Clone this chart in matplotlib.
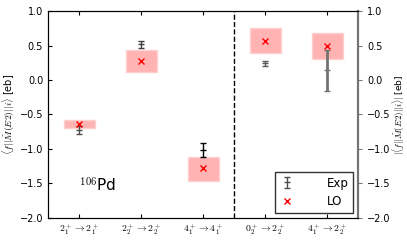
import numpy as np
import matplotlib
matplotlib.use('Agg')
import matplotlib.pyplot as plt

labels = [r'$2_1^+ \rightarrow 2_1^+$', r'$2_2^+ \rightarrow 2_2^+$', r'$4_1^+ \rightarrow 4_1^+$',
          r'$0_2^+ \rightarrow 2_2^+$', r'$4_1^+ \rightarrow 2_2^+$']
exp = [-0.73, 0.52, -1.02, 0.24, 0.14]
exp_err = [0.06, 0.05, 0.10, 0.03, 0.30]
exp_col = ['0.3', '0.25', '0.0', '0.35', '0.45']
exp_lw = [1.0, 1.0, 1.0, 1.0, 2.0]
lo = [-0.64, 0.27, -1.28, 0.57, 0.49]
lo_low = [-0.70, 0.11, -1.46, 0.39, 0.30]
lo_high = [-0.58, 0.435, -1.12, 0.76, 0.68]

plt.rcParams['mathtext.fontset'] = 'cm'
fig = plt.figure(figsize=(4.07, 2.4), dpi=100)
ax = fig.add_axes([0.118, 0.092, 0.762, 0.862])
x = np.arange(len(labels))

ax.bar(x, np.array(lo_high) - np.array(lo_low), bottom=lo_low, width=0.5,
       color='#ffb3b3', edgecolor='#ffd0d0', linewidth=1, zorder=1)
for i in range(len(x)):
    ax.errorbar(x[i], exp[i], yerr=exp_err[i], fmt='_', color=exp_col[i], ms=5,
                capsize=2.5, elinewidth=exp_lw[i], lw=exp_lw[i], zorder=2,
                label='Exp' if i == 0 else None)
ax.plot(x, lo, 'x', color='red', ms=5, mew=1, zorder=3, label='LO')
ax.axvline(2.5, color='k', ls='--', lw=1)

ax.set_xlim(-0.5, 4.5)
ax.set_ylim(-2.0, 1.0)
ax.set_xticks(x)
ax.set_xticklabels(labels, fontsize=7)
ticks = np.arange(-2.0, 1.01, 0.5)
tick_txt = ['%.1f' % v if v >= 0 else '\u2212%.1f' % -v for v in ticks]
ax.set_yticks(ticks)
ax.set_yticklabels(tick_txt, fontsize=7)
ax.tick_params(direction='in', top=True, length=3)
ax.set_ylabel(r'$\langle f||\hat{M}(E2)||i\rangle$ [eb]', fontsize=7, labelpad=2)
ax.spines['right'].set_color('0.45')
ax.spines['right'].set_linewidth(1.5)

ax2 = ax.twinx()
ax2.set_ylim(-2.0, 1.0)
ax2.set_yticks(ticks)
ax2.set_yticklabels(tick_txt, fontsize=7)
ax2.tick_params(direction='out', length=3, color='0.45')
ax2.set_ylabel(r'$|\langle f||\hat{M}(E2)||i\rangle|$ [eb]', fontsize=6.5, labelpad=0)
ax2.spines['right'].set_color('0.45')
ax2.spines['right'].set_linewidth(1.5)

ax.text(0.0, -1.62, r'$^{106}$Pd', fontsize=11)

h, l = ax.get_legend_handles_labels()
order = [l.index('Exp'), l.index('LO')]
leg = ax.legend([h[k] for k in order], [l[k] for k in order], loc='lower right',
                fontsize=8.5, fancybox=False, edgecolor='k',
                handlelength=1.2, borderaxespad=0.4, handletextpad=2.8)
leg.get_frame().set_linewidth(1)

fig.savefig('out.png', dpi=100)
